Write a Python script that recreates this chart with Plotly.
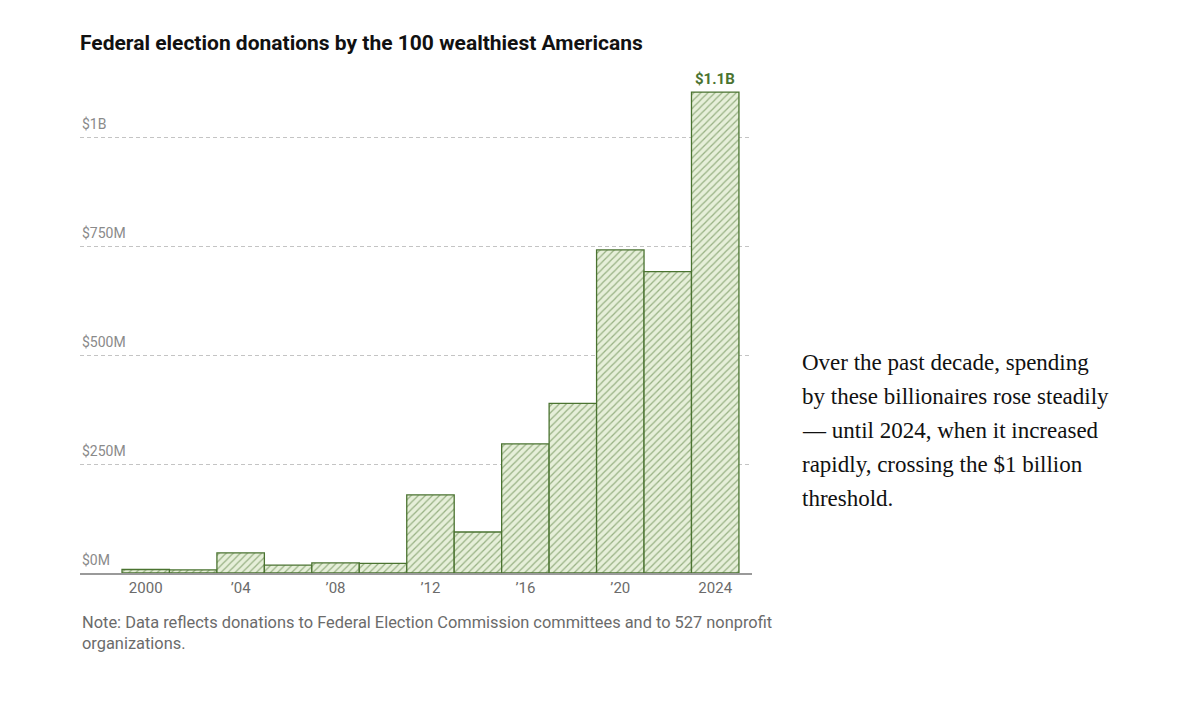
import plotly.graph_objects as go

# election cycles and donations (USD)
years = [2000, 2002, 2004, 2006, 2008, 2010, 2012, 2014, 2016, 2018, 2020, 2022, 2024]
donations = [8e6, 7e6, 46e6, 18e6, 23e6, 22e6, 179e6, 94e6, 296e6, 389e6, 741e6, 691e6, 1103e6]

tick_years = [2000, 2004, 2008, 2012, 2016, 2020, 2024]
tick_text = ["2000", "’04", "’08", "’12", "’16", "’20", "2024"]

grid_vals = [0, 250e6, 500e6, 750e6, 1e9]
grid_text = ["$0M", "$250M", "$500M", "$750M", "$1B"]

side_lines = [
    "Over the past decade, spending",
    "by these billionaires rose steadily",
    "— until 2024, when it increased",
    "rapidly, crossing the $1 billion",
    "threshold.",
]

GREEN = "#4a7330"
FILL = "#e6efd9"

# page body adds an 8px offset, so margins are shifted by that
OFF = 8

fig = go.Figure(
    go.Bar(
        x=years,
        y=donations,
        width=[2] * len(years),
        marker=dict(
            color=FILL,
            line=dict(color=GREEN, width=1.3),
            pattern=dict(shape="/", fgcolor=GREEN, bgcolor=FILL, size=5, solidity=0.25),
        ),
        hoverinfo="x+y",
    )
)

fig.update_layout(
    width=1200,
    height=710,
    margin=dict(l=80 - OFF, r=448 + OFF, t=70 - OFF, b=137 + OFF),
    paper_bgcolor="white",
    plot_bgcolor="white",
    showlegend=False,
    font=dict(family="Roboto, sans-serif"),
    title=dict(
        text="<b>Federal election donations by the 100 wealthiest Americans</b>",
        x=(80 - OFF) / 1200,
        xanchor="left",
        xref="container",
        y=1 - (43 - OFF) / 710,
        yanchor="middle",
        font=dict(size=21, color="#111", family="Roboto, sans-serif"),
    ),
)

fig.update_xaxes(
    range=[1997.23, 2025.55],
    tickvals=tick_years,
    ticktext=tick_text,
    tickfont=dict(size=15, color="#6b6b6b"),
    showgrid=False,
    showline=True,
    linecolor="#9a9a9a",
    linewidth=2,
    ticks="",
    zeroline=False,
)

fig.update_yaxes(
    range=[0, 503 / 436 * 1e9],
    tickvals=grid_vals[1:],
    showticklabels=False,
    showgrid=True,
    gridcolor="#c4c4c4",
    griddash="4px,3px",
    gridwidth=1,
    zeroline=False,
)

for v, t in zip(grid_vals, grid_text):
    fig.add_annotation(
        x=0, xref="paper", xanchor="left",
        y=v, yref="y", yanchor="bottom", yshift=3,
        text=t, showarrow=False,
        font=dict(size=14, color="#8a8a8a"),
    )

# label on the latest bar
fig.add_annotation(
    x=years[-1], y=donations[-1], yanchor="bottom", yshift=2,
    text="<b>$%.1fB</b>" % (donations[-1] / 1e9), showarrow=False,
    font=dict(size=15, color=GREEN),
)

fig.add_annotation(
    x=0, xref="paper", xanchor="left",
    y=-0.075, yref="paper", yanchor="top",
    text="Note: Data reflects donations to Federal Election Commission committees and to 527 nonprofit<br>organizations.",
    align="left", showarrow=False,
    font=dict(size=16.4, color="#6b6b6b"),
)

for i, line in enumerate(side_lines):
    fig.add_annotation(
        x=(800 - 80) / 672, xref="paper", xanchor="left",
        y=(572.7 - (362 + 34 * i)) / 503, yref="paper", yanchor="middle",
        text=line, showarrow=False, align="left",
        font=dict(size=23, color="#111", family="Liberation Serif, serif"),
    )

fig.write_html("out.html")
